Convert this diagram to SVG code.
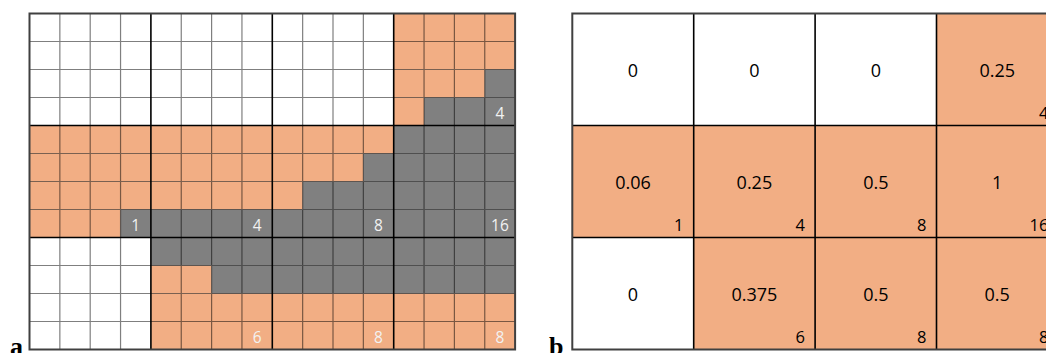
<svg xmlns="http://www.w3.org/2000/svg" width="1046" height="353" viewBox="0 0 1046 353">
<style>
.o{fill:#F2AE84}
.g{fill:#808080}
.thin{stroke:#000;stroke-opacity:0.5;stroke-width:1.2;fill:none}
.thick{stroke:#000;stroke-width:1.6;fill:none}
.border{stroke:#404040;stroke-width:2;fill:none}
.la{font-family:"Open Sans","Liberation Sans",sans-serif;font-size:15.5px;fill:#f2f2f2;text-anchor:middle}
.vb{font-family:"Open Sans","Liberation Sans",sans-serif;font-size:18px;fill:#000;text-anchor:middle}
.cb{font-family:"Open Sans","Liberation Sans",sans-serif;font-size:16.5px;fill:#000;text-anchor:end}
.pl{font-family:"Liberation Serif",serif;font-size:26px;font-weight:bold;fill:#000}
</style>
<rect width="1046" height="353" fill="#fff"/>
<g id="panel-a">
<g id="a-fills">
<rect class="o" x="393.7" y="13.5" width="121.4" height="56"/>
<rect class="o" x="393.7" y="69.5" width="91.05" height="28"/>
<rect class="o" x="393.7" y="97.5" width="30.35" height="28"/>
<rect class="o" x="29.5" y="125.5" width="364.2" height="28"/>
<rect class="o" x="29.5" y="153.5" width="333.85" height="28"/>
<rect class="o" x="29.5" y="181.5" width="273.15" height="28"/>
<rect class="o" x="29.5" y="209.5" width="91.05" height="28"/>
<rect class="o" x="150.9" y="265.5" width="60.7" height="28"/>
<rect class="o" x="150.9" y="293.5" width="364.2" height="56"/>
<rect class="g" x="484.75" y="69.5" width="30.35" height="28"/>
<rect class="g" x="424.05" y="97.5" width="91.05" height="28"/>
<rect class="g" x="393.7" y="125.5" width="121.4" height="28"/>
<rect class="g" x="363.35" y="153.5" width="151.75" height="28"/>
<rect class="g" x="302.65" y="181.5" width="212.45" height="28"/>
<rect class="g" x="120.55" y="209.5" width="394.55" height="28"/>
<rect class="g" x="150.9" y="237.5" width="364.2" height="28"/>
<rect class="g" x="211.6" y="265.5" width="303.5" height="28"/>
</g>
<path class="thin" d="M59.85 13.5V349.5M90.2 13.5V349.5M120.55 13.5V349.5M181.25 13.5V349.5M211.6 13.5V349.5M241.95 13.5V349.5M302.65 13.5V349.5M333 13.5V349.5M363.35 13.5V349.5M424.05 13.5V349.5M454.4 13.5V349.5M484.75 13.5V349.5M29.5 41.5H515.1M29.5 69.5H515.1M29.5 97.5H515.1M29.5 153.5H515.1M29.5 181.5H515.1M29.5 209.5H515.1M29.5 265.5H515.1M29.5 293.5H515.1M29.5 321.5H515.1"/>
<path class="thick" d="M150.9 13.5V349.5M272.3 13.5V349.5M393.7 13.5V349.5M29.5 125.5H515.1M29.5 237.5H515.1"/>
<rect class="border" x="29.5" y="13.5" width="485.6" height="336"/>
<text class="la" x="499.9" y="118.5">4</text>
<text class="la" x="135.7" y="230.5">1</text>
<text class="la" x="257.1" y="230.5">4</text>
<text class="la" x="378.5" y="230.5">8</text>
<text class="la" x="499.9" y="230.5">16</text>
<text class="la" x="257.1" y="342.5">6</text>
<text class="la" x="378.5" y="342.5">8</text>
<text class="la" x="499.9" y="342.5">8</text>
<text class="pl" x="10" y="355">a</text>
</g>
<g id="panel-b">
<rect class="o" x="936.5" y="13.5" width="121.4" height="112"/>
<rect class="o" x="572.3" y="125.5" width="485.6" height="112"/>
<rect class="o" x="693.7" y="237.5" width="364.2" height="112"/>
<path class="thick" d="M693.7 13.5V349.5M815.1 13.5V349.5M936.5 13.5V349.5M572.3 125.5H1057.9M572.3 237.5H1057.9"/>
<rect class="border" x="572.3" y="13.5" width="485.6" height="336"/>
<g id="b-r0">
<text class="vb" x="633" y="76.8">0</text>
<text class="vb" x="754.4" y="76.8">0</text>
<text class="vb" x="875.8" y="76.8">0</text>
<text class="vb" x="997.2" y="76.8">0.25</text>
<text class="cb" x="1048.4" y="118.7">4</text>
</g>
<g id="b-r1">
<text class="vb" x="633" y="188.8">0.06</text>
<text class="cb" x="683.5" y="230.7">1</text>
<text class="vb" x="754.4" y="188.8">0.25</text>
<text class="cb" x="805" y="230.7">4</text>
<text class="vb" x="875.8" y="188.8">0.5</text>
<text class="cb" x="926.4" y="230.7">8</text>
<text class="vb" x="997.2" y="188.8">1</text>
<text class="cb" x="1048.4" y="230.7">16</text>
</g>
<g id="b-r2">
<text class="vb" x="633" y="300.8">0</text>
<text class="vb" x="754.4" y="300.8">0.375</text>
<text class="cb" x="805" y="342.7">6</text>
<text class="vb" x="875.8" y="300.8">0.5</text>
<text class="cb" x="926.4" y="342.7">8</text>
<text class="vb" x="997.2" y="300.8">0.5</text>
<text class="cb" x="1048.4" y="342.7">8</text>
</g>
<text class="pl" x="549" y="355">b</text>
</g>
</svg>
